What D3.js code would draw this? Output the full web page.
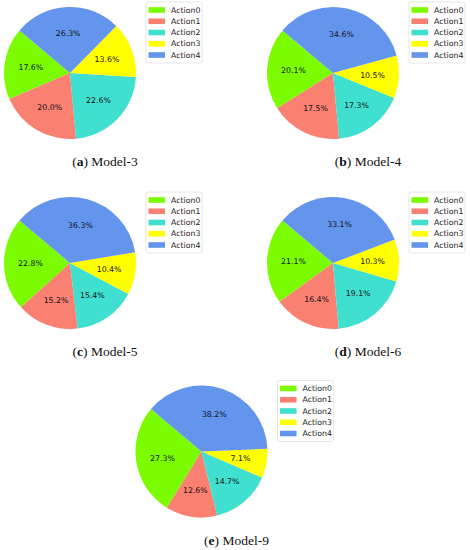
<!DOCTYPE html>
<html>
<head>
<meta charset="utf-8">
<script src="https://cdn.jsdelivr.net/npm/d3@7"></script>
<style>
  body { margin: 0; background: #fff; }
  .pct { font-family: "DejaVu Sans", sans-serif; font-size: 7.8px; fill: #111; }
  .leg { font-family: "DejaVu Sans", sans-serif; font-size: 7.8px; fill: #222; }
  .cap { font-family: "Liberation Serif", serif; font-size: 13.5px; fill: #111; }
</style>
</head>
<body>
<div id="chart"></div>
<script>
// action names and the share of each action, per model
var actions = ["Action0", "Action1", "Action2", "Action3", "Action4"];
var model3 = [17.6, 20.0, 22.6, 13.6, 26.3];
var model4 = [20.1, 17.5, 17.3, 10.5, 34.6];
var model5 = [22.8, 15.2, 15.4, 10.4, 36.3];
var model6 = [21.1, 16.4, 19.1, 10.3, 33.1];
var model9 = [27.3, 12.6, 14.7, 7.1, 38.2];
var panelLetters = ["a", "b", "c", "d", "e"];
var modelNames = ["Model-3", "Model-4", "Model-5", "Model-6", "Model-9"];

var colors = ["#7CFC00", "#FA8072", "#40E0D0", "#FFFF00", "#6495ED"];

var width = 470, height = 550;
var radius = 66;
// top-left corner of each panel
var origins = [[0, 0], [263, 0], [0, 190], [263, 190], [131.5, 378.5]];
var allShares = [model3, model4, model5, model6, model9];

var svg = d3.select("#chart")
  .append("svg")
  .attr("width", width)
  .attr("height", height);

// matplotlib-like: start at 140 deg, go counterclockwise
var toRad = Math.PI / 180;
var pie = d3.pie()
  .sort(null)
  .startAngle((90 - 140) * toRad)
  .endAngle((90 - 140 - 360) * toRad);

var arc = d3.arc().innerRadius(0).outerRadius(radius);
var labelArc = d3.arc().innerRadius(radius * 0.6).outerRadius(radius * 0.6);

var color = d3.scaleOrdinal().domain(actions).range(colors);

allShares.forEach(function(shares, i) {
  var g = svg.append("g")
    .attr("transform", "translate(" + origins[i][0] + "," + origins[i][1] + ")");

  var pg = g.append("g").attr("transform", "translate(70,73)");
  var slices = pie(shares);

  pg.selectAll("path")
    .data(slices)
    .enter()
    .append("path")
    .attr("d", arc)
    .style("fill", function(d, k) { return color(actions[k]); });

  pg.selectAll("text")
    .data(slices)
    .enter()
    .append("text")
    .attr("class", "pct")
    .attr("transform", function(d) { return "translate(" + labelArc.centroid(d) + ")"; })
    .attr("text-anchor", "middle")
    .attr("dy", "0.35em")
    .text(function(d) { return d.data.toFixed(1) + "%"; });

  // legend
  var lg = g.append("g").attr("transform", "translate(146,2)");
  lg.append("rect")
    .attr("x", 0).attr("y", 0)
    .attr("width", 56).attr("height", 61)
    .attr("rx", 2)
    .style("fill", "#fff")
    .style("stroke", "#d6d6d6")
    .style("stroke-width", 0.6);

  var rows = lg.selectAll("g.row")
    .data(actions)
    .enter()
    .append("g")
    .attr("class", "row")
    .attr("transform", function(d, k) { return "translate(0," + (8 + k * 11.25) + ")"; });

  rows.append("rect")
    .attr("x", 2.5).attr("y", -2.8)
    .attr("width", 16.5).attr("height", 5.6)
    .style("fill", function(d) { return color(d); });

  rows.append("text")
    .attr("class", "leg")
    .attr("x", 25)
    .attr("dy", "0.35em")
    .text(function(d) { return d; });

  // caption
  var cap = g.append("text")
    .attr("class", "cap")
    .attr("x", 105)
    .attr("y", 166)
    .attr("text-anchor", "middle");
  cap.append("tspan").text("(");
  cap.append("tspan").style("font-weight", "bold").text(panelLetters[i]);
  cap.append("tspan").text(") " + modelNames[i]);
});
</script>
</body>
</html>
